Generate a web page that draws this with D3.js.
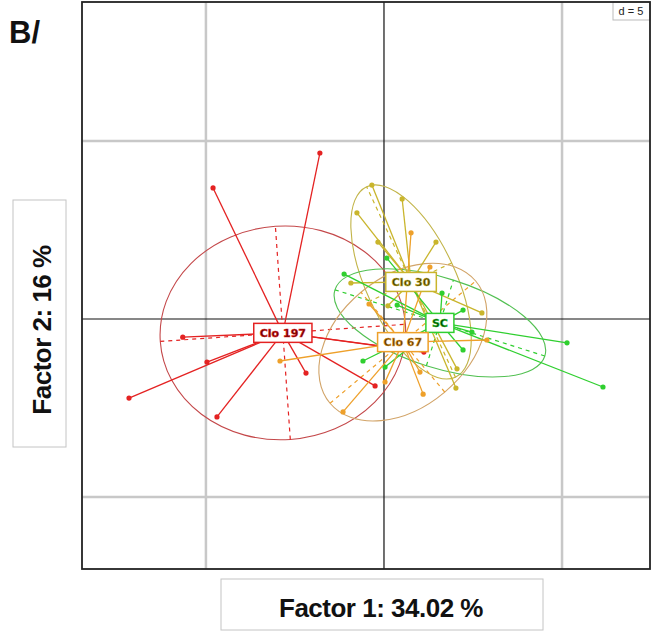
<!DOCTYPE html>
<html>
<head>
<meta charset="utf-8">
<script src="https://cdn.jsdelivr.net/npm/d3@7"></script>
<style>
  body { margin: 0; background: #fff; }
  svg { display: block; font-family: "Liberation Sans", Arial, sans-serif; }
</style>
</head>
<body>
<div id="chart"></div>
<script>
// plot area (in pixels) and data window (in factor units)
const svgWidth = 652,
    svgHeight = 634,
    plot = { left: 82, right: 650, top: 2, bottom: 569 };

const xDomain = [-8.48, 7.47],
    yDomain = [-7.02, 8.9];

// grid, d = 5
const gridValues = [-5, 0, 5];

// classes: label, centre, ellipse (semi axes + angle in degrees)
const classNames = ["Clo 197", "Clo 30", "SC", "Clo 67"];
const classColors = ["#e42222", "#c9b52c", "#2fcf2f", "#eea02a"];
const ellipseColors = ["#c4484a", "#c2b448", "#52c052", "#d2a468"];
const labelTextColors = ["#6a0000", "#4a4200", "#004a00", "#5a3c00"];
const classCentres = [[-2.84, -0.39], [0.76, 1.04], [1.57, -0.11], [0.53, -0.65]];
const ellipseA = [3.45, 2.95, 3.09, 2.67];
const ellipseB = [3.0, 1.26, 1.26, 1.83];
const ellipseAngle = [4, 115, -17.5, 40];

// individual points per class
const clo197Points = [[-1.80, 4.66], [-4.80, 3.68], [-5.65, -0.51], [-4.97, -1.21], [-7.16, -2.22],
    [-4.69, -2.75], [-2.19, -1.52], [-0.25, -1.88], [-0.06, -0.76], [1.12, -0.93]];
const clo30Points = [[-0.34, 3.76], [0.51, 3.37], [-0.76, 2.98], [-0.17, 2.16], [1.46, 2.16],
    [2.75, 0.17], [2.05, -1.40], [2.02, -1.94], [-0.93, 1.01], [0.11, 0.37]];
const scPoints = [[-1.12, 1.26], [0.08, 1.71], [5.14, -0.67], [6.15, -1.91], [-0.59, -1.18],
    [0.03, -1.35], [2.22, -0.87], [2.22, 0.25], [1.63, 0.73], [0.37, 0.39], [2.47, -0.37]];
const clo67Points = [[0.76, 2.42], [1.29, 1.46], [-0.42, 0.42], [-1.15, -2.61], [0.03, -1.77],
    [1.10, -2.11], [1.01, -1.49], [2.89, -0.59], [-2.92, -1.18]];
const classPoints = [clo197Points, clo30Points, scPoints, clo67Points];

let svg = d3.select("#chart").append("svg")
    .attr("width", svgWidth)
    .attr("height", svgHeight);

let xScale = d3.scaleLinear().domain(xDomain).range([plot.left, plot.right]);
let yScale = d3.scaleLinear().domain(yDomain).range([plot.bottom, plot.top]);
let unit = xScale(1) - xScale(0);

// grid
let gridGroup = svg.append("g");
gridGroup.selectAll(".vgrid")
    .data(gridValues.filter((d) => d != 0))
    .join("line")
    .attr("x1", (d) => xScale(d)).attr("x2", (d) => xScale(d))
    .attr("y1", plot.top).attr("y2", plot.bottom)
    .attr("stroke", "#c8c8c8").attr("stroke-width", 2.5);
gridGroup.selectAll(".hgrid")
    .data(gridValues.filter((d) => d != 0))
    .join("line")
    .attr("class", "hgrid")
    .attr("y1", (d) => yScale(d)).attr("y2", (d) => yScale(d))
    .attr("x1", plot.left).attr("x2", plot.right)
    .attr("stroke", "#c8c8c8").attr("stroke-width", 2.5);

// zero lines
svg.append("line")
    .attr("x1", xScale(0)).attr("x2", xScale(0))
    .attr("y1", plot.top).attr("y2", plot.bottom)
    .attr("stroke", "#111").attr("stroke-width", 1.2);
svg.append("line")
    .attr("y1", yScale(0)).attr("y2", yScale(0))
    .attr("x1", plot.left).attr("x2", plot.right)
    .attr("stroke", "#111").attr("stroke-width", 1.2);

// d = 5 box
svg.append("rect")
    .attr("x", 613).attr("y", 2).attr("width", 37).attr("height", 18)
    .attr("fill", "#fff").attr("stroke", "#bbb");
svg.append("text")
    .attr("x", 631).attr("y", 15)
    .attr("text-anchor", "middle")
    .attr("font-size", 11)
    .attr("fill", "#222")
    .text("d = 5");

let classData = classNames.map((name, i) => ({
    name: name,
    color: classColors[i],
    ecolor: ellipseColors[i],
    tcolor: labelTextColors[i],
    cx: classCentres[i][0],
    cy: classCentres[i][1],
    a: ellipseA[i],
    b: ellipseB[i],
    angle: ellipseAngle[i],
    points: classPoints[i]
}));

let marks = svg.append("g");

// ellipses + their axes (dashed)
classData.forEach((c) => {
    let px = xScale(c.cx), py = yScale(c.cy);
    marks.append("ellipse")
        .attr("cx", px).attr("cy", py)
        .attr("rx", c.a * unit).attr("ry", c.b * unit)
        .attr("transform", `rotate(${-c.angle}, ${px}, ${py})`)
        .attr("fill", "none")
        .attr("stroke", c.ecolor)
        .attr("stroke-width", 1.1);
    let rad = c.angle * Math.PI / 180;
    let axes = [
        [Math.cos(rad) * c.a, Math.sin(rad) * c.a],
        [-Math.sin(rad) * c.b, Math.cos(rad) * c.b]
    ];
    axes.forEach((v) => {
        marks.append("line")
            .attr("x1", xScale(c.cx - v[0])).attr("y1", yScale(c.cy - v[1]))
            .attr("x2", xScale(c.cx + v[0])).attr("y2", yScale(c.cy + v[1]))
            .attr("stroke", c.color)
            .attr("stroke-width", 1.2)
            .attr("stroke-dasharray", "4,4");
    });
});

// star lines and points
classData.forEach((c) => {
    marks.append("g").selectAll("line")
        .data(c.points)
        .join("line")
        .attr("x1", xScale(c.cx)).attr("y1", yScale(c.cy))
        .attr("x2", (d) => xScale(d[0])).attr("y2", (d) => yScale(d[1]))
        .attr("stroke", c.color)
        .attr("stroke-width", 1.3);
    marks.append("g").selectAll("circle")
        .data(c.points)
        .join("circle")
        .attr("cx", (d) => xScale(d[0])).attr("cy", (d) => yScale(d[1]))
        .attr("r", 2.6)
        .attr("fill", c.color);
});

// class labels
classData.forEach((c) => {
    let g = svg.append("g")
        .attr("transform", `translate(${xScale(c.cx)}, ${yScale(c.cy)})`);
    let box = g.append("rect");
    let t = g.append("text")
        .attr("text-anchor", "middle")
        .attr("dy", "0.36em")
        .attr("font-family", "DejaVu Sans, sans-serif")
        .attr("font-weight", "bold")
        .attr("font-size", 11)
        .attr("fill", c.tcolor)
        .attr("stroke", c.color)
        .attr("stroke-width", 0.5)
        .text(c.name);
    let w = t.node().getComputedTextLength() + 12;
    box.attr("x", -w / 2).attr("y", -9.5)
        .attr("width", w).attr("height", 19)
        .attr("fill", "#fff")
        .attr("stroke", c.color)
        .attr("stroke-width", 1.5);
});

// frame
svg.append("rect")
    .attr("x", plot.left).attr("y", plot.top)
    .attr("width", plot.right - plot.left).attr("height", plot.bottom - plot.top)
    .attr("fill", "none")
    .attr("stroke", "#222")
    .attr("stroke-width", 1.8);

// axis label boxes
svg.append("rect")
    .attr("x", 221).attr("y", 579).attr("width", 322).attr("height", 51)
    .attr("fill", "#fff").attr("stroke", "#c4c4c4");
svg.append("text")
    .attr("x", 381).attr("y", 617)
    .attr("text-anchor", "middle")
    .attr("font-size", 26)
    .attr("font-weight", "bold")
    .attr("letter-spacing", -0.5)
    .attr("fill", "#111")
    .text("Factor 1: 34.02 %");

svg.append("rect")
    .attr("x", 13).attr("y", 200).attr("width", 53).attr("height", 247)
    .attr("fill", "#fff").attr("stroke", "#c4c4c4");
svg.append("text")
    .attr("transform", "translate(51, 330) rotate(-90)")
    .attr("text-anchor", "middle")
    .attr("font-size", 26)
    .attr("font-weight", "bold")
    .attr("letter-spacing", -0.5)
    .attr("fill", "#111")
    .text("Factor 2: 16 %");

// panel tag
svg.append("text")
    .attr("x", 9).attr("y", 43)
    .attr("font-size", 31)
    .attr("font-weight", "bold")
    .attr("fill", "#111")
    .text("B/");
</script>
</body>
</html>
